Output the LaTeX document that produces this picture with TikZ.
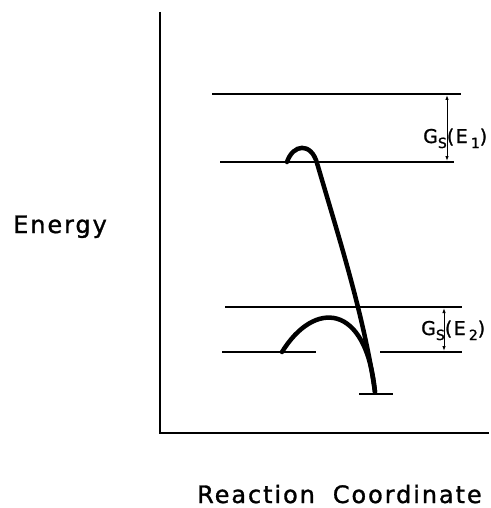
\documentclass[tikz,border=0pt]{standalone}
\usepackage{fontspec}
\setmainfont{DejaVu Sans}[LetterSpace=8,FakeBold=1.2]
\usetikzlibrary{arrows.meta}
\tikzset{
  level/.style={line width=1.3pt},
  axis/.style={line width=1.5pt},
  path/.style={line width=4.5pt, line cap=round},
  gap/.style={line width=0.9pt, {Latex[length=5pt,width=3.5pt]}-{Latex[length=5pt,width=3.5pt]}},
  lbl/.style={inner sep=0pt, anchor=base west},
}
\newcommand{\gsub}[1]{\raisebox{-5pt}{\fontsize{14}{14}\selectfont #1}}
\begin{document}
\begin{tikzpicture}[x=1pt,y=-1pt]
\useasboundingbox (0,0) rectangle (490,508);
% axes
\coordinate (ytop) at (160,12);
\coordinate (orig) at (160,433);
\coordinate (xend) at (489,433);
\draw[axis] (ytop) -- (orig) -- (xend);
% levels
\coordinate (l1a) at (212,94);  \coordinate (l1b) at (461,94);
\coordinate (l2a) at (220,162); \coordinate (l2b) at (454,162);
\coordinate (l3a) at (225,307); \coordinate (l3b) at (462,307);
\coordinate (l4a) at (222,352); \coordinate (l4b) at (316,352);
\coordinate (l5a) at (380,352); \coordinate (l5b) at (462,352);
\coordinate (l6a) at (359,394); \coordinate (l6b) at (393,394);
\draw[level] (l1a) -- (l1b);
\draw[level] (l2a) -- (l2b);
\draw[level] (l3a) -- (l3b);
\draw[level] (l4a) -- (l4b);
\draw[level] (l5a) -- (l5b);
\draw[level] (l6a) -- (l6b);
% gap arrows
\coordinate (g1t) at (447,95);  \coordinate (g1b) at (447,161);
\coordinate (g2t) at (444,308); \coordinate (g2b) at (444,351);
\draw[gap] (g1t) -- (g1b);
\draw[gap] (g2t) -- (g2b);
% curves
\coordinate (c1s) at (287,162);
\coordinate (c1m) at (317,163);
\coordinate (bot) at (375,392);
\draw[path] (c1s) .. controls (293,144) and (311,142) .. (c1m)
  .. controls (338,235) and (364,315) .. (bot);
\coordinate (c2s) at (282,352);
\draw[path] (c2s) .. controls (314,300) and (366,302) .. (bot);
% labels
\node[lbl] (gs1) at (423,143) {\fontsize{19}{19}\selectfont G\gsub{S}(E\,\gsub{1})};
\node[lbl] (gs2) at (421,335) {\fontsize{19}{19}\selectfont G\gsub{S}(E\,\gsub{2})};
\node[lbl] (energy) at (13,233) {\fontsize{24}{28}\selectfont Energy};
\node[lbl] (rc) at (197,503) {\fontsize{24}{28}\selectfont Reaction\hspace{0.35em} Coordinate};
\end{tikzpicture}
\end{document}
